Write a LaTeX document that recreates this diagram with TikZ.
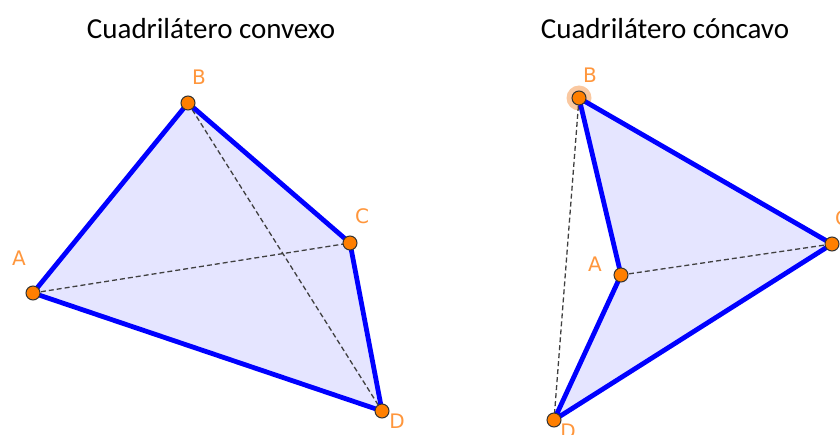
\documentclass[tikz,border=0pt]{standalone}
\usepackage{fontspec}
\setmainfont{Carlito}
\newfontfamily\lblfont{DejaVu Sans}
\definecolor{edgeblue}{RGB}{0,0,255}
\definecolor{fillblue}{RGB}{229,229,255}
\definecolor{ptorange}{RGB}{255,127,0}
\definecolor{lblorange}{RGB}{255,150,60}
\definecolor{halo}{RGB}{250,200,160}
\tikzset{
  edge/.style={draw=edgeblue,line width=4.8pt,line join=round},
  diag/.style={draw=black!75,line width=1.3pt,dash pattern=on 5pt off 3pt},
  pt/.style={circle,fill=ptorange,draw=black!80,line width=1pt,minimum size=14pt,inner sep=0pt},
  lbl/.style={text=lblorange,font=\lblfont\fontsize{20}{20}\selectfont,inner sep=0pt},
  title/.style={font=\fontsize{29}{32}\selectfont,inner sep=0pt}
}
\begin{document}
\begin{tikzpicture}[x=1pt,y=-1pt]
\useasboundingbox (0,0) rectangle (840,435);
% titles
\node[title] (t1) at (211,29) {Cuadrilátero convexo};
\node[title] (t2) at (665,29) {Cuadrilátero cóncavo};
% left quadrilateral
\coordinate (A) at (33,293);
\coordinate (B) at (188,103);
\coordinate (C) at (350,243);
\coordinate (D) at (382,411);
\fill[fillblue] (A) -- (B) -- (C) -- (D) -- cycle;
\draw[diag] (A) -- (C);
\draw[diag] (B) -- (D);
\draw[edge] (A) -- (B) -- (C) -- (D) -- cycle;
\node[pt] (pA) at (A) {};
\node[pt] (pB) at (B) {};
\node[pt] (pC) at (C) {};
\node[pt] (pD) at (D) {};
\node[lbl] (lA) at (19,258) {A};
\node[lbl] (lB) at (199,77) {B};
\node[lbl] (lC) at (362,216) {C};
\node[lbl] (lD) at (397,421) {D};
% right quadrilateral
\coordinate (A2) at (621,275);
\coordinate (B2) at (579,98);
\coordinate (C2) at (832,244);
\coordinate (D2) at (554,420);
\fill[halo] (B2) circle (12.5);
\fill[fillblue] (B2) -- (C2) -- (D2) -- (A2) -- cycle;
\draw[diag] (A2) -- (C2);
\draw[diag] (B2) -- (D2);
\draw[edge] (B2) -- (C2) -- (D2) -- (A2) -- cycle;
\node[pt] (pA2) at (A2) {};
\node[pt] (pB2) at (B2) {};
\node[pt] (pC2) at (C2) {};
\node[pt] (pD2) at (D2) {};
\node[lbl] (lA2) at (595,264) {A};
\node[lbl] (lB2) at (590,75) {B};
\node[lbl,anchor=west] (lC2) at (835,218) {C};
\node[lbl] (lD2) at (568,431) {D};
\end{tikzpicture}
\end{document}
